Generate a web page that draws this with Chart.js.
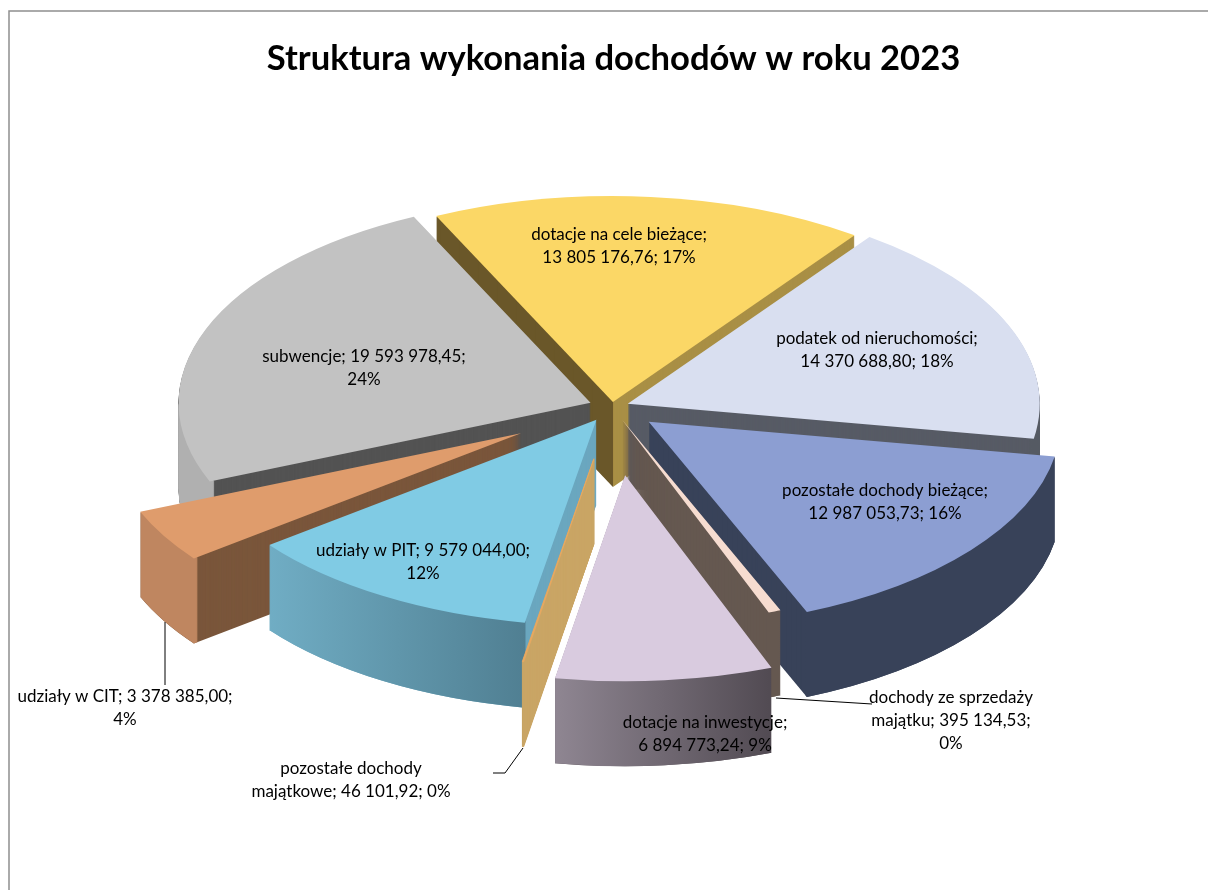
<!DOCTYPE html>
<html lang="pl"><head><meta charset="utf-8">
<style>html,body{margin:0;padding:0;background:#fff;overflow:hidden}canvas{display:block}</style>
<script src="https://cdn.jsdelivr.net/npm/chart.js@4"></script>
</head><body><canvas id="c" width="1208" height="890"></canvas>
<script>
const titleText = "Struktura wykonania dochodów w roku 2023";
const categories = ["dotacje na cele bieżące","podatek od nieruchomości","pozostałe dochody bieżące","dochody ze sprzedaży majątku","dotacje na inwestycje","pozostałe dochody majątkowe","udziały w PIT","udziały w CIT","subwencje"];
const values = [13805176.76,14370688.80,12987053.73,395134.53,6894773.24,46101.92,9579044.00,3378385.00,19593978.45];
const labelLines = [
  ["dotacje na cele bieżące;","13 805 176,76; 17%"],
  ["podatek od nieruchomości;","14 370 688,80; 18%"],
  ["pozostałe dochody bieżące;","12 987 053,73; 16%"],
  ["dochody ze sprzedaży","majątku; 395 134,53;","0%"],
  ["dotacje na inwestycje;","6 894 773,24; 9%"],
  ["pozostałe dochody","majątkowe; 46 101,92; 0%"],
  ["udziały w PIT; 9 579 044,00;","12%"],
  ["udziały w CIT; 3 378 385,00;","4%"],
  ["subwencje; 19 593 978,45;","24%"]
];
const topColors   = ["#fbd766","#d9dff0","#8c9ed2","#f6dcd0","#d9cbdf","#e8a860","#80cbe4","#df9c6c","#c2c2c2"];
const startWalls  = ["#6a5729","#575b65","#384259","#655850","#5a5258","#c9a565","#6ba7bf","#7a563b","#535353"];
const endWalls    = ["#a98f45","#575b65","#384259","#655850","#5a5258","#c9a565","#6ba7bf","#7a563b","#535353"];
const rimLeft     = ["#a98f45","#575b65","#384259","#655850","#8f8692","#c9a565","#70adc4","#bf8660","#b0b0b0"];
const rimRight    = ["#a98f45","#555a63","#384259","#655850","#514a52","#c9a565","#507f92","#bf8660","#a4a4a4"];
const explodePx   = [10,17,47,28,137,105,30,105,23];
const paintOrder  = [0,1,8,7,2,3,6,5,4];
const labelCenters = [[619,235],[877,339],[885,491],[951,698],[705,723],[351,769],[423,551],[125,697],[364,357]];
const leaderLines = [[[165,622],[165,685]],[[523,748],[505,773],[493,773]],[[776,698],[872,704]]];

const CX=612, CY=407, SQUASH=0.5, DEPTH=85, RADIUS=412;
const TAU=Math.PI*2;

function place(ctx, arc, i, drop){
  const mid=(arc.startAngle+arc.endAngle)/2;
  ctx.setTransform(1,0,0,1,0,0);
  ctx.translate(CX+Math.cos(mid)*explodePx[i], CY+Math.sin(mid)*explodePx[i]*SQUASH+drop);
  ctx.scale(1,SQUASH);
  ctx.translate(-arc.x,-arc.y);
}
function paint(ctx, arc, color, a0, a1, inner, stroke){
  const s={o:arc.options,a:arc.startAngle,b:arc.endAngle,c:arc.circumference,r:arc.innerRadius};
  arc.options={backgroundColor:color,borderColor:color,borderWidth:stroke||0,borderAlign:'center',borderJoinStyle:'round',borderRadius:0,offset:0,spacing:0,circular:true,selfJoin:false,borderDash:[],borderDashOffset:0};
  arc.startAngle=a0; arc.endAngle=a1; arc.circumference=a1-a0; arc.innerRadius=inner;
  arc.draw(ctx);
  arc.options=s.o; arc.startAngle=s.a; arc.endAngle=s.b; arc.circumference=s.c; arc.innerRadius=s.r;
}
// the part of a slice's rim that faces the viewer (canvas angles 0..PI)
function frontRange(a,b){
  for(const k of [-TAU,0,TAU]){
    const lo=Math.max(a,k), hi=Math.min(b,k+Math.PI);
    if(hi>lo) return [lo,hi];
  }
  return null;
}
const pie3d={
  id:'pie3d',
  beforeDatasetsDraw(chart){
    const ctx=chart.ctx, arcs=chart.getDatasetMeta(0).data;
    ctx.save();
    for(const i of paintOrder){
      const arc=arcs[i], a=arc.startAngle, b=arc.endAngle, m=(a+b)/2;
      const thin=(b-a)<0.01 ? 1 : 0;
      const xs=[Math.cos(a),Math.cos(b)].map(v=>arc.x+v*RADIUS);
      const grad=ctx.createLinearGradient(Math.min(...xs),0,Math.max(...xs)+1,0);
      grad.addColorStop(0,rimLeft[i]); grad.addColorStop(1,rimRight[i]);
      for(let d=DEPTH;d>=1;d--){
        place(ctx,arc,i,d);
        paint(ctx,arc,startWalls[i],a,m,0,thin);
        paint(ctx,arc,endWalls[i],m,b,0,thin);
      }
      const fr=frontRange(a,b);
      if(fr && !thin){
        for(let d=DEPTH;d>=1;d--){
          place(ctx,arc,i,d);
          paint(ctx,arc,grad,fr[0],fr[1],RADIUS-5);
        }
      }
      place(ctx,arc,i,0);
      paint(ctx,arc,topColors[i],a,b,0,thin);
    }
    ctx.restore();
    return false;
  },
  afterDraw(chart){
    const ctx=chart.ctx;
    ctx.save();
    ctx.setTransform(1,0,0,1,0,0);
    ctx.strokeStyle='#8f8f8f'; ctx.lineWidth=1.5;
    ctx.beginPath(); ctx.moveTo(1208,11); ctx.lineTo(9,11); ctx.lineTo(9,890); ctx.stroke();
    ctx.strokeStyle='#000'; ctx.lineWidth=1;
    for(const l of leaderLines){
      ctx.beginPath(); l.forEach((p,j)=>j?ctx.lineTo(p[0],p[1]):ctx.moveTo(p[0],p[1])); ctx.stroke();
    }
    ctx.fillStyle='#000'; ctx.font='17px Lato'; ctx.textAlign='center'; ctx.textBaseline='middle';
    labelLines.forEach((ls,i)=>ls.forEach((t,j)=>ctx.fillText(t,labelCenters[i][0],labelCenters[i][1]+j*23)));
    ctx.restore();
  }
};
new Chart(document.getElementById('c'),{
  type:'pie',
  data:{labels:categories,datasets:[{data:values,backgroundColor:topColors,borderWidth:0}]},
  options:{
    responsive:false,animation:false,radius:RADIUS,rotation:-25.4,
    layout:{padding:{left:19}},
    plugins:{
      legend:{display:false},tooltip:{enabled:false},
      title:{display:true,text:titleText,color:'#000',font:{family:'Lato',size:34.6,weight:'bold'},padding:{top:38,bottom:0}}
    }
  },
  plugins:[pie3d]
});
</script></body></html>
